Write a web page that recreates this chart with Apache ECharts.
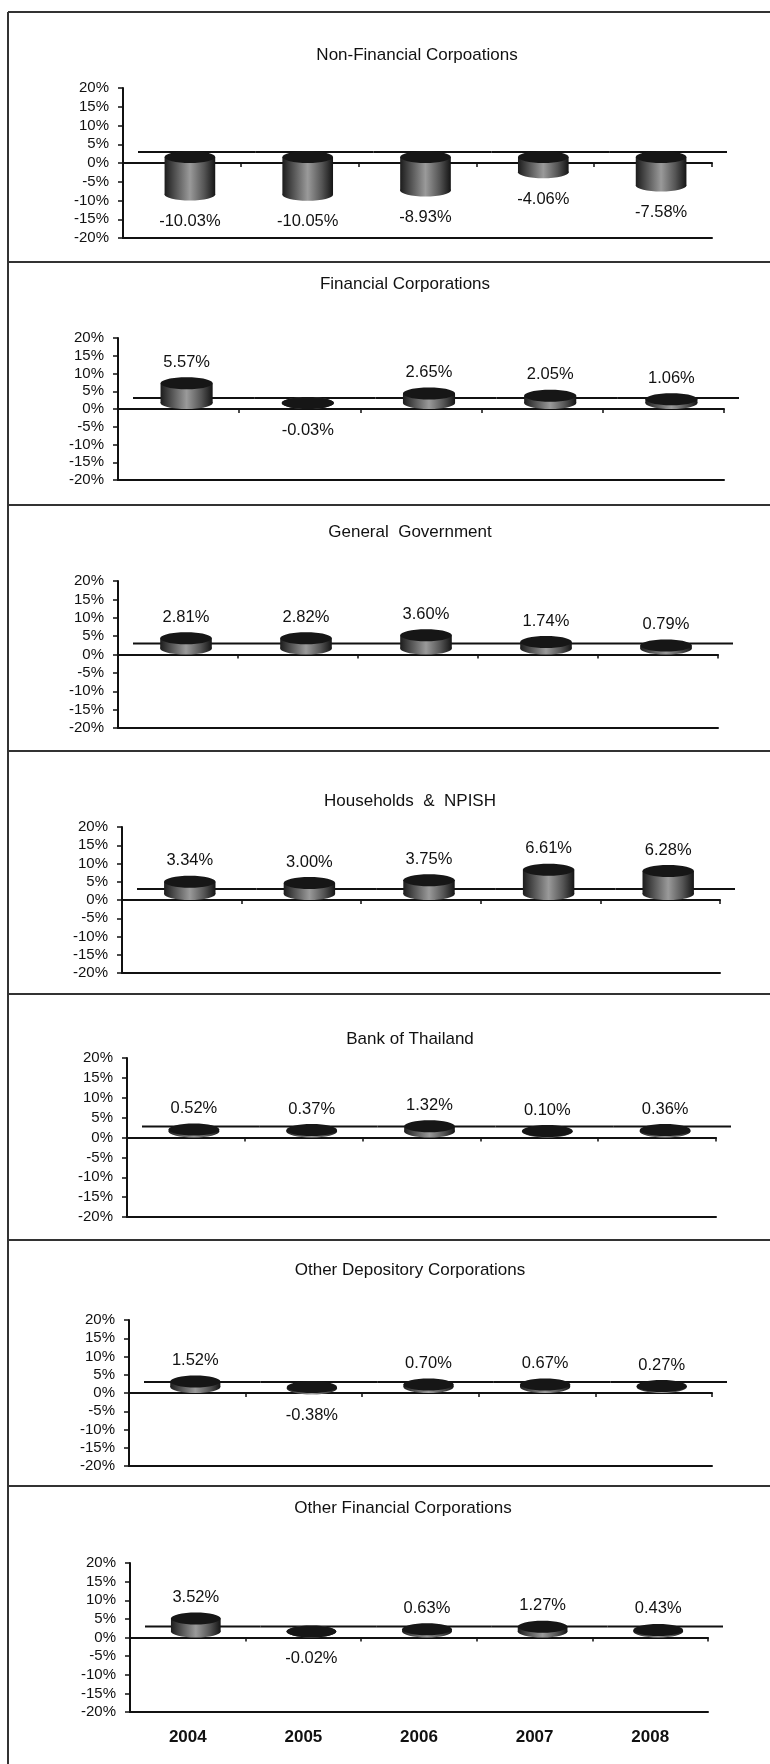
<!DOCTYPE html>
<html>
<head>
<meta charset="utf-8">
<script src="https://cdn.jsdelivr.net/npm/echarts@6/dist/echarts.min.js"></script>
<style>
  html, body { margin: 0; padding: 0; background: #fff; }
  #chartBox { width: 770px; height: 1764px; }
</style>
</head>
<body>
<div id="chartBox"></div>
<script>
// data (annual change, %)
var years = ['2004', '2005', '2006', '2007', '2008']
var yTicks = [-20, -15, -10, -5, 0, 5, 10, 15, 20]
var panelTitles = ['Non-Financial Corpoations', 'Financial Corporations', 'General  Government',
  'Households  &  NPISH', 'Bank of Thailand', 'Other Depository Corporations', 'Other Financial Corporations']
var nonFinancial = [-10.03, -10.05, -8.93, -4.06, -7.58]
var financial = [5.57, -0.03, 2.65, 2.05, 1.06]
var generalGov = [2.81, 2.82, 3.60, 1.74, 0.79]
var households = [3.34, 3.00, 3.75, 6.61, 6.28]
var bankOfThailand = [0.52, 0.37, 1.32, 0.10, 0.36]
var otherDepository = [1.52, -0.38, 0.70, 0.67, 0.27]
var otherFinancial = [3.52, -0.02, 0.63, 1.27, 0.43]
var panelValues = [nonFinancial, financial, generalGov, households, bankOfThailand, otherDepository, otherFinancial]

// panel layout in px: plot box, title centre, panel separators
var plots = [
  { left: 123, right: 712, top: 88, bottom: 238, tx: 417, ty: 57 },
  { left: 118, right: 724, top: 338, bottom: 480, tx: 405, ty: 286 },
  { left: 118, right: 718, top: 581, bottom: 728, tx: 410, ty: 534 },
  { left: 122, right: 720, top: 827, bottom: 973, tx: 410, ty: 803 },
  { left: 127, right: 716, top: 1058, bottom: 1217, tx: 410, ty: 1041 },
  { left: 129, right: 712, top: 1320, bottom: 1466, tx: 410, ty: 1272 },
  { left: 130, right: 708, top: 1563, bottom: 1712, tx: 403, ty: 1510 }
]
var separators = [12, 262, 505, 751, 994, 1240, 1486]

var FONT = '"Liberation Sans", Arial, sans-serif'
var INK = '#111'
var DEPTH_X = 15
var DEPTH_Y = 11

var myChart = echarts.init(document.getElementById('chartBox'))

var bodyFill = new echarts.graphic.LinearGradient(0, 0, 1, 0, [
  { offset: 0, color: '#1c1c1c' },
  { offset: 0.18, color: '#4a4a4a' },
  { offset: 0.5, color: '#9a9a9a' },
  { offset: 0.78, color: '#555' },
  { offset: 1, color: '#141414' }
])

// 3-D cylinder drawn from the axis scales, like the old Excel chart
function cylinder (params, api) {
  var i = api.value(0)
  var v = api.value(1)
  var base = api.coord([i, 0])
  var end = api.coord([i, v])
  var band = api.size([1, 0])[0]
  var w = band * 0.43
  var cx = base[0] + 8
  var yz = base[1] - 6
  var yv = end[1] - 6
  var top = Math.min(yz, yv)
  var bottom = Math.max(yz, yv)
  var ry = 6
  var ly = v >= 0 ? end[1] - 27 : end[1] + 21
  return {
    type: 'group',
    children: [
      {
        type: 'line',
        shape: { x1: base[0] - band / 2 + DEPTH_X, y1: base[1] - DEPTH_Y, x2: base[0] + band / 2 + DEPTH_X, y2: base[1] - DEPTH_Y },
        style: { stroke: INK, lineWidth: 2 }
      },
      { type: 'ellipse', shape: { cx: cx, cy: bottom, rx: w / 2, ry: ry }, style: { fill: bodyFill } },
      { type: 'rect', shape: { x: cx - w / 2, y: top, width: w, height: bottom - top }, style: { fill: bodyFill } },
      { type: 'ellipse', shape: { cx: cx, cy: top, rx: w / 2, ry: ry }, style: { fill: '#161616' } },
      {
        type: 'text',
        x: cx,
        y: ly,
        style: {
          text: v.toFixed(2) + '%',
          align: 'center',
          verticalAlign: 'middle',
          fontSize: 16.5,
          fontFamily: FONT,
          fill: INK
        }
      }
    ]
  }
}

var grids = []
var xAxes = []
var yAxes = []
var series = []
var titles = []

plots.forEach(function (p, k) {
  grids.push({ left: p.left, top: p.top, width: p.right - p.left, height: p.bottom - p.top })
  titles.push({
    text: panelTitles[k],
    left: p.tx,
    top: p.ty - 10,
    textAlign: 'center',
    padding: 0,
    textStyle: { fontSize: 17, fontWeight: 'normal', fontFamily: FONT, color: INK }
  })
  // category axis sitting on 0%
  xAxes.push({
    gridIndex: k,
    type: 'category',
    data: years,
    position: 'bottom',
    axisLine: { onZero: true, lineStyle: { color: INK, width: 2 } },
    axisTick: { show: true, length: 4, lineStyle: { color: INK, width: 1.5 } },
    axisLabel: { show: false }
  })
  // bottom edge of the plot, years only on the last panel
  xAxes.push({
    gridIndex: k,
    type: 'category',
    data: years,
    position: 'bottom',
    axisLine: { onZero: false, lineStyle: { color: INK, width: 2 } },
    axisTick: { show: false },
    axisLabel: {
      show: k === plots.length - 1,
      margin: 17,
      fontSize: 17,
      fontWeight: 'bold',
      fontFamily: FONT,
      color: INK
    }
  })
  yAxes.push({
    gridIndex: k,
    type: 'value',
    min: yTicks[0],
    max: yTicks[yTicks.length - 1],
    interval: 5,
    axisLine: { show: true, onZero: false, lineStyle: { color: INK, width: 2 } },
    axisTick: { show: true, length: 5, lineStyle: { color: INK, width: 1.5 } },
    splitLine: { show: false },
    axisLabel: { margin: 14, fontSize: 15, fontFamily: FONT, color: INK, formatter: '{value}%' }
  })
  series.push({
    type: 'custom',
    xAxisIndex: k * 2,
    yAxisIndex: k,
    clip: false,
    renderItem: cylinder,
    encode: { x: 0, y: 1 },
    data: panelValues[k].map(function (v, i) { return [i, v] }),
    z: 5
  })
})

// panel frame lines
var frame = [{
  type: 'line',
  shape: { x1: 8, y1: 12, x2: 8, y2: 1764 },
  style: { stroke: '#333', lineWidth: 2 }
}]
separators.forEach(function (y) {
  frame.push({ type: 'line', shape: { x1: 8, y1: y, x2: 770, y2: y }, style: { stroke: '#333', lineWidth: 2 } })
})

var option = {
  backgroundColor: '#fff',
  animation: false,
  title: titles,
  grid: grids,
  xAxis: xAxes,
  yAxis: yAxes,
  series: series,
  graphic: frame
}

myChart.setOption(option)
</script>
</body>
</html>
